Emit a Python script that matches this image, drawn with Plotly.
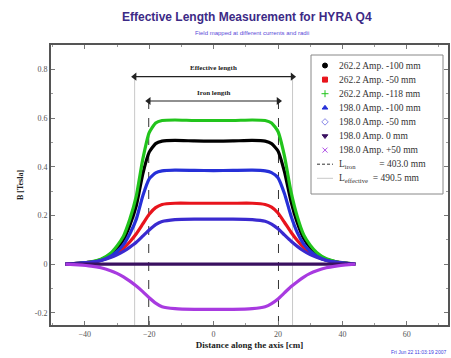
import plotly.graph_objects as go

# Axial field profiles of the HYRA Q4 quadrupole, B [T] vs position along the axis [cm]
z_cm = [-46, -42, -38, -35, -32, -30, -28, -26, -24, -22, -20, -18, -16, -12, -6, 0,
        6, 12, 16, 18, 20, 22, 24, 26, 28, 30, 32, 35, 38, 41, 44]

b_262_m100 = [0.0, 0.003, 0.008, 0.018, 0.04, 0.065, 0.10, 0.16, 0.24, 0.37, 0.46, 0.495, 0.505, 0.508, 0.506, 0.505,
              0.506, 0.508, 0.505, 0.495, 0.465, 0.38, 0.26, 0.17, 0.105, 0.068, 0.042, 0.02, 0.009, 0.004, 0.0]
b_262_m50 = [0.0, 0.003, 0.008, 0.016, 0.03, 0.045, 0.065, 0.092, 0.125, 0.165, 0.205, 0.232, 0.245, 0.25, 0.25, 0.25,
             0.25, 0.25, 0.245, 0.234, 0.21, 0.172, 0.132, 0.097, 0.068, 0.047, 0.031, 0.016, 0.008, 0.003, 0.0]
b_262_m118 = [0.0, 0.003, 0.009, 0.02, 0.045, 0.075, 0.115, 0.185, 0.28, 0.43, 0.54, 0.58, 0.59, 0.592, 0.59, 0.59,
              0.59, 0.592, 0.59, 0.58, 0.545, 0.445, 0.30, 0.195, 0.12, 0.078, 0.048, 0.022, 0.01, 0.004, 0.0]
b_198_m100 = [0.0, 0.003, 0.007, 0.015, 0.032, 0.052, 0.08, 0.125, 0.185, 0.28, 0.35, 0.375, 0.383, 0.386, 0.385, 0.384,
              0.385, 0.386, 0.383, 0.376, 0.355, 0.29, 0.2, 0.13, 0.082, 0.053, 0.033, 0.016, 0.007, 0.003, 0.0]
b_198_m50 = [0.0, 0.003, 0.008, 0.015, 0.027, 0.038, 0.052, 0.07, 0.09, 0.115, 0.14, 0.162, 0.175, 0.183, 0.185, 0.185,
             0.185, 0.183, 0.176, 0.164, 0.145, 0.12, 0.095, 0.073, 0.054, 0.039, 0.028, 0.015, 0.008, 0.003, 0.0]
b_198_0 = [0.0, 0.0, 0.0, 0.0, 0.0, 0.0, 0.0, 0.0, 0.0, 0.0, 0.0, 0.0, 0.0, 0.0, 0.0, 0.0,
           0.0, 0.0, 0.0, 0.0, 0.0, 0.0, 0.0, 0.0, 0.0, 0.0, 0.0, 0.0, 0.0, 0.0, 0.0]
b_198_p50 = [0.0, -0.003, -0.008, -0.015, -0.027, -0.038, -0.052, -0.07, -0.09, -0.113, -0.138, -0.16, -0.175, -0.183, -0.186, -0.186,
             -0.186, -0.183, -0.175, -0.162, -0.143, -0.118, -0.093, -0.072, -0.053, -0.038, -0.027, -0.015, -0.008, -0.003, 0.0]

series_names = ["262.2 Amp. -100 mm", "262.2 Amp. -50 mm", "262.2 Amp. -118 mm",
                "198.0 Amp. -100 mm", "198.0 Amp. -50 mm", "198.0 Amp. 0 mm", "198.0 Amp. +50 mm"]
series_values = [b_262_m100, b_262_m50, b_262_m118, b_198_m100, b_198_m50, b_198_0, b_198_p50]

# Iron and effective magnet lengths [mm]
L_IRON_MM = 403.0
L_EFF_MM = 490.5

y_ticks = [-0.2, 0, 0.2, 0.4, 0.6, 0.8]
y_tick_text = ["-0.2", "0", "0.2", "0.4", "0.6", "0.8"]

colors = ["#000000", "#e8141c", "#22c41c", "#2630d8", "#3a2ad0", "#3a1060", "#a83ae0"]
legend_colors = ["#000000", "#e8141c", "#22c41c", "#2630d8", "#8a8ae8", "#3a1060", "#b050e8"]
symbols = ["circle", "square", "cross-thin", "triangle-up", "diamond-open", "triangle-down", "x-thin"]

# Plot-area geometry in pixels (used by the hand-built legend overlay)
PL, PR, PT, PB = 51, 448, 45, 325

fig = go.Figure()

half_iron = L_IRON_MM / 20.0   # mm -> cm, half length
half_eff = L_EFF_MM / 20.0

# Effective length markers (light) and iron edges (dashed)
for xv in (-half_eff, half_eff):
    fig.add_trace(go.Scatter(x=[xv, xv], y=[-0.25, 0.77], mode="lines",
                             line=dict(color="#c8c8c8", width=1), showlegend=False, hoverinfo="skip"))
for xv in (-half_iron, half_iron):
    fig.add_trace(go.Scatter(x=[xv, xv], y=[-0.25, 0.67], mode="lines",
                             line=dict(color="#333333", width=1, dash="dash"), showlegend=False, hoverinfo="skip"))

# Double-headed length arrows
for half, yv in ((half_eff, 0.77), (half_iron, 0.67)):
    fig.add_trace(go.Scatter(x=[-half, half], y=[yv, yv], mode="lines+markers",
                             line=dict(color="#222222", width=1.2),
                             marker=dict(symbol=["triangle-left", "triangle-right"], size=7, color="#222222"),
                             showlegend=False, hoverinfo="skip"))

# Field profiles
for vals, col in zip(series_values, colors):
    fig.add_trace(go.Scatter(x=z_cm, y=vals, mode="lines",
                             line=dict(color=col, width=3.2, shape="spline", smoothing=0.5),
                             showlegend=False, hoverinfo="skip"))

# Legend, drawn on an overlay axis pair measured in pixels
leg_x0, leg_x1, leg_y0, leg_y1 = 311, 443, 55, 194
row_y0, row_dy = 65.5, 14.1
sym_x, text_x = 325, 337
legend_annotations = []
for i, (name, col, sym) in enumerate(zip(series_names, legend_colors, symbols)):
    yy = row_y0 + i * row_dy
    fig.add_trace(go.Scatter(x=[sym_x], y=[yy], xaxis="x2", yaxis="y2", mode="markers",
                             marker=dict(color=col, symbol=sym, size=5, line=dict(color=col, width=1)),
                             showlegend=False, hoverinfo="skip"))
    legend_annotations.append(dict(x=text_x, y=yy, xref="x2", yref="y2", text=name, showarrow=False,
                                   xanchor="left", yanchor="middle",
                                   font=dict(family="Liberation Serif", size=9.5, color="#333")))
y_iron = row_y0 + 7 * row_dy
y_eff = row_y0 + 8 * row_dy
fig.add_trace(go.Scatter(x=[317, 333], y=[y_iron, y_iron], xaxis="x2", yaxis="y2", mode="lines",
                         line=dict(color="#333333", width=1, dash="3px,2px"), showlegend=False, hoverinfo="skip"))
fig.add_trace(go.Scatter(x=[317, 333], y=[y_eff, y_eff], xaxis="x2", yaxis="y2", mode="lines",
                         line=dict(color="#c8c8c8", width=1), showlegend=False, hoverinfo="skip"))
legend_annotations.append(dict(x=text_x, y=y_iron, xref="x2", yref="y2",
                               text=f"L<sub>iron</sub>          = {L_IRON_MM:.1f} mm", showarrow=False,
                               xanchor="left", yanchor="middle",
                               font=dict(family="Liberation Serif", size=9.5, color="#333")))
legend_annotations.append(dict(x=text_x, y=y_eff, xref="x2", yref="y2",
                               text=f"L<sub>effective</sub>  = {L_EFF_MM:.1f} mm", showarrow=False,
                               xanchor="left", yanchor="middle",
                               font=dict(family="Liberation Serif", size=9.5, color="#333")))

annotations = [
    dict(x=0, y=0.78, xref="x", yref="y", text="<b>Effective length</b>", showarrow=False, yanchor="bottom",
         font=dict(family="Liberation Serif", size=7, color="#222")),
    dict(x=0, y=0.68, xref="x", yref="y", text="<b>Iron length</b>", showarrow=False, yanchor="bottom",
         font=dict(family="Liberation Serif", size=7, color="#222")),
    dict(x=(247 - PL) / (PR - PL), y=(PB - 17) / (PB - PT), xref="paper", yref="paper", showarrow=False,
         text="<b>Effective Length Measurement for HYRA Q4</b>", xanchor="center", yanchor="middle",
         font=dict(family="Liberation Sans", size=12, color="#3c2a86")),
    dict(x=(252 - PL) / (PR - PL), y=(PB - 33) / (PB - PT), xref="paper", yref="paper", showarrow=False,
         text="Field mapped at different currents and radii", xanchor="center", yanchor="middle",
         font=dict(family="Liberation Sans", size=6, color="#5a4ad8")),
    dict(x=1.0, y=(PB - 352) / (PB - PT), xref="paper", yref="paper", showarrow=False,
         text="Fri Jun 22 11:03:19 2007", xanchor="right", yanchor="middle",
         font=dict(family="Liberation Sans", size=5, color="#3a3ae0")),
] + legend_annotations

axis_common = dict(showline=True, linecolor="#555555", linewidth=2, mirror="ticks", ticks="inside",
                   ticklen=4, tickcolor="#777777", showgrid=False, zeroline=False, automargin=False,
                   tickfont=dict(family="Liberation Serif", size=8, color="#555555"))

fig.update_layout(
    width=451, height=358,
    margin=dict(l=PL, r=451 - PR, t=PT, b=358 - PB),
    paper_bgcolor="white", plot_bgcolor="white",
    showlegend=False,
    xaxis=dict(range=[-50.5, 72.8], dtick=20, tick0=0,
               minor=dict(ticks="inside", ticklen=2, tickcolor="#999999", dtick=10),
               title=dict(text="<b>Distance along the axis [cm]</b>", standoff=4,
                          font=dict(family="Liberation Serif", size=9, color="#222")),
               **axis_common),
    yaxis=dict(range=[-0.25, 0.9], tickmode="array", tickvals=y_ticks, ticktext=y_tick_text,
               minor=dict(ticks="inside", ticklen=2, tickcolor="#999999", tickmode="array",
                          tickvals=[-0.1, 0.1, 0.3, 0.5, 0.7]),
               title=dict(text="<b>B [Tesla]</b>", standoff=10,
                          font=dict(family="Liberation Serif", size=8, color="#222")),
               **axis_common),
    xaxis2=dict(overlaying="x", range=[PL, PR], visible=False, fixedrange=True),
    yaxis2=dict(overlaying="y", range=[PB, PT], visible=False, fixedrange=True),
    shapes=[dict(type="rect", xref="x2", yref="y2", x0=leg_x0, x1=leg_x1, y0=leg_y0, y1=leg_y1,
                 line=dict(color="#888888", width=1), fillcolor="white", layer="below")],
    annotations=annotations,
)

fig.write_html("out.html")
